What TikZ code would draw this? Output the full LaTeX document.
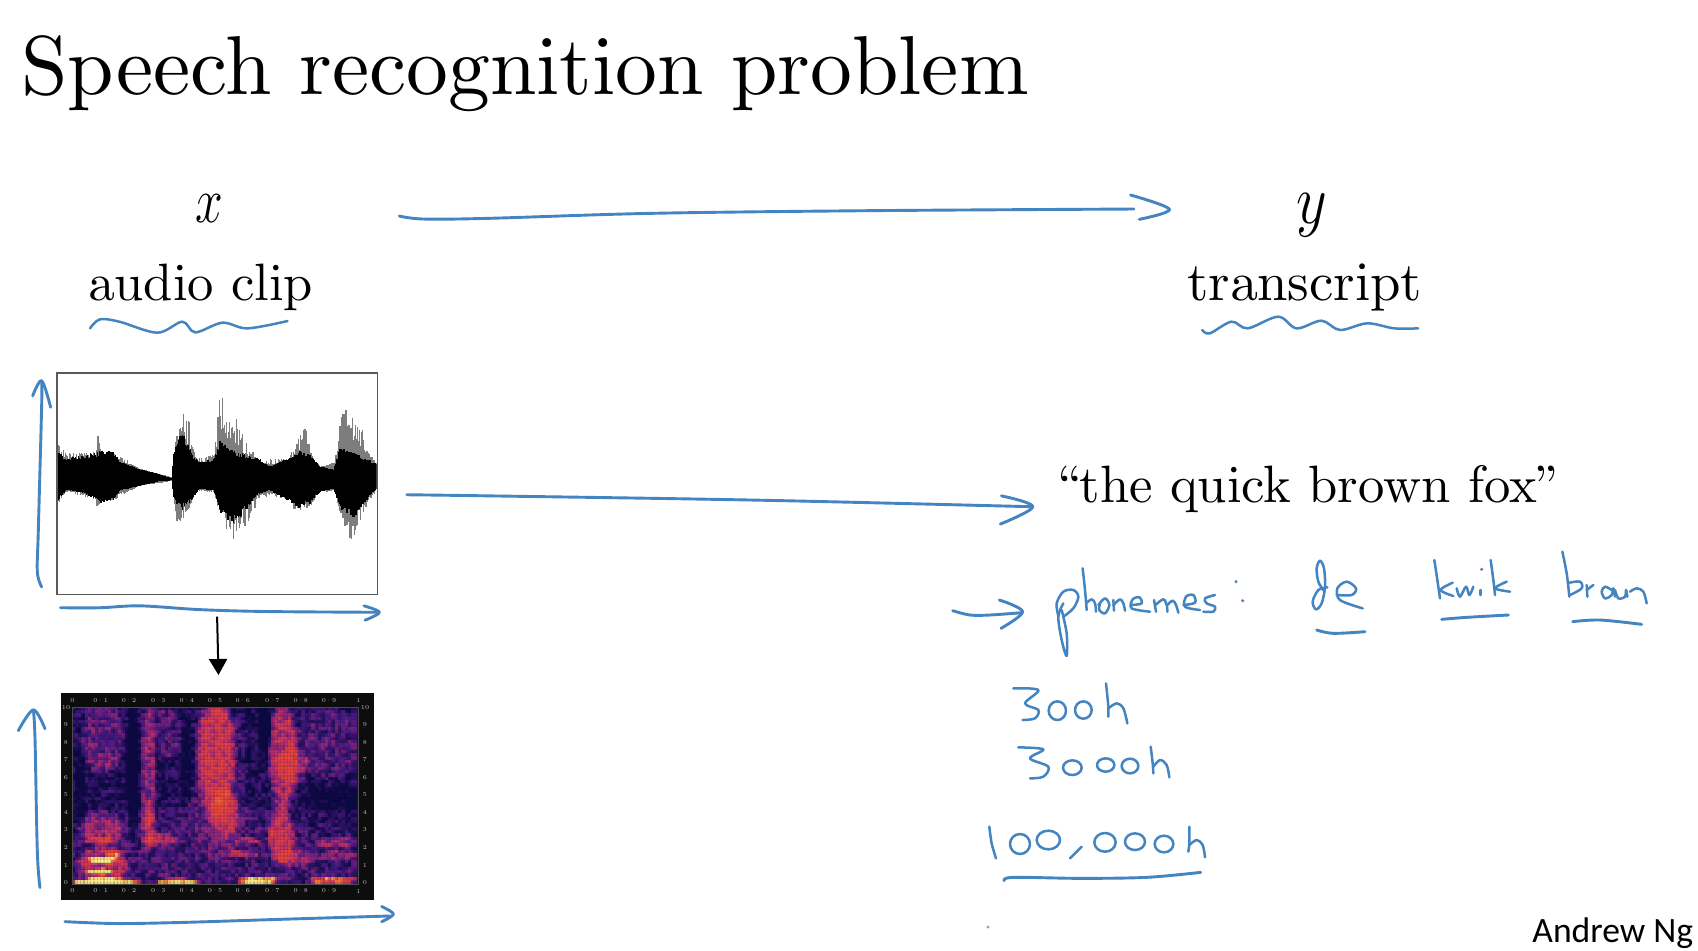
\documentclass[tikz,border=0pt]{standalone}
\usepackage{fontspec}
\usepackage{graphicx}
\usetikzlibrary{arrows.meta}
\newfontfamily\ngfont{Carlito}
\font\ftitle=cmr10 at 41.8pt
\font\faudio=cmr10 at 26.3pt
\font\ftrans=cmr10 at 27.4pt
\font\fquote=cmr10 at 26.3pt
\definecolor{ink}{RGB}{68,132,192}
\definecolor{wgray}{RGB}{125,125,125}
\newcount\tv \newcount\tb
\newcommand\Bp[5]{\tb=\numexpr 2*(1000-(\zx-#1)*(\zx-#1)*1000/(#3*#3)-(\zy-#2)*(\zy-#2)*1000/(#4*#4))\relax
  \ifnum\tb>1000 \tb=1000 \fi
  \ifnum\tb>0 \advance\tv by \numexpr #5*\tb/1000\relax\fi}
\newcommand\Lp[4]{\the\numexpr #1+(#2-#1)*(\tv-#3)/(#4-#3)\relax}
\newcommand\cmapset{%
  \ifnum\tv<0 \tv=0 \fi \ifnum\tv>1000 \tv=1000 \fi
  \ifnum\tv<280 \edef\rgbv{\Lp{10}{80}{0}{280},\Lp{8}{28}{0}{280},\Lp{62}{135}{0}{280}}%
  \else\ifnum\tv<540 \edef\rgbv{\Lp{80}{195}{280}{540},\Lp{28}{48}{280}{540},\Lp{135}{105}{280}{540}}%
  \else\ifnum\tv<760 \edef\rgbv{\Lp{195}{238}{540}{760},\Lp{48}{70}{540}{760},\Lp{105}{50}{540}{760}}%
  \else\ifnum\tv<900 \edef\rgbv{\Lp{238}{252}{760}{900},\Lp{70}{180}{760}{900},\Lp{50}{50}{760}{900}}%
  \else \edef\rgbv{\Lp{252}{255}{900}{1000},\Lp{180}{240}{900}{1000},\Lp{50}{130}{900}{1000}}%
  \fi\fi\fi\fi
  \definecolor{cc}{RGB}{\rgbv}}
% waveform made of one-pixel vertical strokes between two interpolated envelopes
\newcommand\Sg[8]{%
  \edef\nxt{\the\numexpr#1+3\relax}%
  \foreach \px in {#1,\nxt,...,#4}{%
    \pgfmathrandominteger{\ja}{0}{100}\pgfmathrandominteger{\jb}{0}{100}%
    \edef\wt{\the\numexpr #2+(#5-#2)*(\px-#1)/(#4-#1)\relax}%
    \edef\wb{\the\numexpr #3+(#6-#3)*(\px-#1)/(#4-#1)\relax}%
    \edef\wt{\the\numexpr \wt+\ifnum285>\wt (285-\wt)*\ja*#8/10000\else 0\fi\relax}%
    \edef\wb{\the\numexpr \wb-\ifnum\wb>340 (\wb-340)*\jb*#8/10000\else 0\fi\relax}%
    \draw[#7,line width=0.6pt] (\px,\wt) -- (\px,\wb);
  }}
\newcommand\wavedraw[3]{%
  \xdef\pX{-1}%
  \foreach \cx/\ct/\cb in {#3}{%
    \ifnum\pX>-1 \Sg{\pX}{\pT}{\pB}{\cx}{\ct}{\cb}{#1}{#2}\fi
    \xdef\pX{\cx}\xdef\pT{\ct}\xdef\pB{\cb}%
  }}
\newcommand\hs[1]{\draw[hand] plot[smooth,tension=0.55] coordinates {#1};}
\newcommand\hl[1]{\draw[handl] plot[smooth,tension=0.55] coordinates {#1};}
\tikzset{
  hand/.style={draw=ink,line width=1.45pt,line cap=round,line join=round},
  handl/.style={draw=ink,line width=1.25pt,line cap=round,line join=round},
  lbl/.style={inner sep=0pt,anchor=base west,text=black},
  tick/.style={inner sep=0pt,text=gray!50,font=\fontsize{3}{3}\selectfont},
  zthree/.style={x=0.166667pt,y=-0.166667pt},
}
\begin{document}
\begin{tikzpicture}[x=0.5pt,y=-0.5pt]
\useasboundingbox (0,0) rectangle (1698,950);
\fill[white] (0,0) rectangle (1698,950);

% texts
\node[lbl,font=\ftitle] (title) at (21,94) {Speech recognition problem};
\node[inner sep=0pt,font=\fontsize{24}{28}\selectfont] (xlab) at (209,209) {\scalebox{1}[1.3]{$x$}};
\node[inner sep=0pt,font=\fontsize{24}{28}\selectfont] (ylab) at (1312,215) {\scalebox{1.2}[1.4]{$y$}};
\node[lbl,font=\faudio] (audio) at (88,300) {audio clip};
\node[lbl,font=\ftrans] (transcript) at (1187,300) {transcript};
\node[lbl,font=\fquote] (quote) at (1053,502) {``the quick brown fox''};
\node[lbl,font=\ngfont\fontsize{17.8}{20}\selectfont] (ng) at (1532,942.5) {Andrew Ng};

% waveform box
\node[inner sep=0pt,anchor=north west,minimum width=160pt,minimum height=110.4pt] (wave) at (56.7,373) {};
\begin{scope}[shift={(0,360)},x=0.166667pt,y=-0.1891pt]
  \clip (170,35) rectangle (1130,622);
  \pgfmathsetseed{7}
  \wavedraw{wgray}{55}{170/205/405,200/245/350,288/240/370,295/158/415,302/240/370,340/240/372,420/288/332,515/310/320,525/230/395,535/170/460,550/135/420,565/150/400,578/215/375,590/260/345,640/250/350,655/105/400,668/100/430,680/130/450,700/125/485,725/190/460,750/235/420,785/265/360,868/260/370,880/215/395,915/178/400,935/245/385,960/282/350,1005/270/345,1020/170/400,1032/115/440,1055/130/485,1075/165/440,1100/205/390,1118/255/365,1130/262/345}
  \wavedraw{black}{30}{170/235/378,200/258/345,250/252/352,300/240/378,340/240/372,360/268/345,420/290/332,470/300/322,515/312/318,522/240/370,548/180/398,578/250/370,600/270/340,640/262/345,660/210/405,700/240/435,740/250/400,770/255/358,810/280/345,870/258/375,900/240/395,930/250/380,960/282/350,1000/290/340,1020/225/395,1062/240/420,1095/262/375,1130/270/340}
\end{scope}
\draw[draw=black!65,line width=0.8pt] (wave.north west) rectangle (wave.south east);

% spectrogram
\node[inner sep=0pt,anchor=north west,fill=black!95,minimum width=156.5pt,minimum height=103.5pt] (spec) at (61,693) {};
\begin{scope}[shift={(60,685)},zthree]
  \pgfmathsetseed{42}
  \begin{scope}
  \clip (37,68) rectangle (895,598);
  \fill[fill={rgb,255:red,30;green,14;blue,90}] (37,68) rectangle (895,598);
  \foreach \zy in {68,78,...,590}{
    \foreach \zx in {37,47,...,885}{
      \pgfmathrandominteger{\rr}{-190}{190}
      \tv=\numexpr 85+\rr\relax
      \Bp{460}{620}{640}{300}{130}
      \Bp{125}{150}{70}{125}{230}
      \Bp{125}{230}{60}{30}{100}
      \Bp{800}{170}{120}{120}{170}
      \Bp{320}{140}{45}{100}{170}
      \Bp{465}{280}{105}{290}{110}
      \Bp{262}{240}{22}{250}{330}
      \Bp{262}{420}{24}{90}{220}
      \Bp{465}{210}{65}{215}{430}
      \Bp{490}{380}{45}{90}{300}
      \Bp{665}{210}{48}{190}{450}
      \Bp{695}{240}{55}{65}{250}
      \Bp{660}{450}{42}{95}{420}
      \Bp{700}{515}{60}{28}{260}
      \Bp{120}{425}{80}{55}{300}
      \Bp{120}{465}{58}{11}{300}
      \Bp{125}{522}{48}{11}{620}
      \Bp{115}{558}{46}{11}{680}
      \Bp{155}{505}{25}{12}{350}
      \Bp{125}{540}{85}{70}{320}
      \Bp{130}{587}{110}{11}{900}
      \Bp{350}{587}{65}{11}{800}
      \Bp{590}{583}{65}{14}{800}
      \Bp{815}{582}{80}{13}{560}
      \Bp{300}{460}{60}{20}{290}
      \Bp{560}{465}{52}{11}{250}
      \Bp{545}{505}{52}{13}{290}
      \Bp{830}{470}{72}{18}{240}
      \Bp{830}{510}{72}{18}{150}
      \Bp{215}{250}{24}{220}{-260}
      \Bp{380}{220}{22}{150}{-200}
      \Bp{610}{120}{24}{90}{-270}
      \Bp{810}{340}{105}{40}{-180}
      \Bp{55}{300}{20}{160}{-130}
      % columns stay red: only the low left part and the bottom strips run to yellow
      \ifnum\zy<565
        \ifnum\zx>240
          \ifnum\tv>700 \tv=\numexpr 700+(\tv-700)/4\relax\fi
        \else\ifnum\zy<500
          \ifnum\tv>700 \tv=\numexpr 700+(\tv-700)/4\relax\fi
        \fi\fi
      \fi
      \cmapset
      \fill[cc,opacity=0.7] (\zx-3,\zy-3) rectangle ++(16,16);
    }
  }
  \end{scope}
  \draw[gray!60!black,line width=0.2pt] (37,68) rectangle (895,598);
  \foreach \v/\xx in {0/37,0·1/122,0·2/207,0·3/295,0·4/380,0·5/465,0·6/548,0·7/637,0·8/722,0·9/807,1/895}{
    \node[tick] at (\xx,47) {\v};
    \node[tick] at (\xx,618) {\v};
  }
  \foreach \v/\yy in {10/68,9/120,8/172,7/225,6/278,5/330,4/382,3/435,2/487,1/540,0/592}{
    \node[tick] at (18,\yy) {\v};
    \node[tick] at (915,\yy) {\v};
  }
\end{scope}

% black arrow between waveform and spectrogram
\coordinate (arrS) at ([yshift=-11pt]wave.south);
\coordinate (arrE) at ([xshift=0.3pt,yshift=9pt]spec.north);
\draw[black,line width=1pt,-{Triangle[length=8pt,width=9pt]}] (arrS) -- (arrE);

% blue strokes around the two plots
\begin{scope}[shift={(0,360)},x=0.166667pt,y=-0.1891pt]
  \hs{(125,600)(112,560)(115,450)(125,120)(125,55)}
  \hs{(98,95)(125,55)(152,125)}
  \hs{(182,655)(300,655)(420,650)(600,660)(800,665)(1135,667)}
  \hs{(1092,650)(1138,667)(1095,688)}
  \hs{(120,1395)(112,1300)(105,1000)(100,925)}
  \hs{(55,980)(100,925)(135,975)}
  \hs{(195,1485)(350,1490)(550,1487)(800,1480)(1170,1470)}
  \hs{(1145,1445)(1180,1465)(1145,1485)}
\end{scope}

% top arrow and underlines
\begin{scope}[x=0.5425pt,y=-0.166667pt]
  \hs{(368,648)(390,657)(450,655)(600,640)(800,632)(1045,627)}
  \hs{(1042,585)(1078,628)(1050,658)}
  \hl{(83,985)(92,958)(110,965)(145,998)(168,965)(180,997)(205,968)(228,985)(265,963)}
  \hl{(1108,990)(1115,1000)(1135,965)(1150,985)(1178,950)(1195,985)(1218,962)(1235,990)(1260,970)(1285,985)(1307,985)}
\end{scope}
% middle arrow
\begin{scope}[x=0.5425pt,y=-0.5425pt]
  \hs{(375,456)(450,457)(700,461)(950,467)}
  \hs{(923,457)(952,467)(922,483)}
\end{scope}

% phonemes
\begin{scope}[shift={(950,540)},zthree]
  \hs{(8,212)(60,225)(120,225)(215,218)}
  \hs{(148,180)(218,215)(153,265)}
  \hl{(325,228)(320,190)(340,155)(370,150)(385,170)(370,205)(340,230)}
  \hl{(340,190)(325,230)(335,300)(350,348)(350,280)(335,210)}
  \hl{(398,85)(405,150)(410,210)}
  \hl{(408,190)(425,178)(435,190)(438,215)}
  \hl{(445,195)(465,175)(478,195)(465,220)(448,210)(450,190)}
  \hl{(490,180)(492,212)}
  \hl{(490,195)(510,178)(520,190)(525,212)}
  \hl{(545,195)(575,190)(568,172)(548,178)(545,205)(600,215)}
  \hl{(612,180)(618,215)}
  \hl{(616,195)(640,178)(650,195)(652,215)}
  \hl{(652,195)(668,182)(678,195)(685,218)}
  \hl{(700,195)(735,188)(730,165)(708,170)(705,200)(750,210)}
  \hl{(795,165)(765,175)(770,190)(795,200)(790,215)(760,215)}
  \fill[ink] (858,125) circle (5);
  \fill[ink] (878,182) circle (5);
\end{scope}

% de kwik braun
\begin{scope}[shift={(1300,540)},zthree]
  \hl{(82,142)(55,150)(38,185)(48,208)(65,190)(75,140)(72,85)(60,62)(50,85)(55,125)(70,150)}
  \hl{(110,165)(155,165)(168,145)(140,125)(112,145)(120,180)(188,205)}
  \hs{(50,270)(100,280)(195,275)}
  \hl{(403,60)(412,120)(420,175)}
  \hl{(458,128)(422,150)(460,168)}
  \hl{(470,145)(480,170)(498,140)(508,165)(520,140)}
  \hl{(542,150)(542,165)}
  \fill[ink] (545,88) circle (5);
  \hl{(572,60)(580,120)(585,165)}
  \hl{(620,125)(585,145)(630,155)}
  \hs{(425,238)(500,232)(625,225)}
  \hl{(787,35)(800,100)(808,170)}
  \hl{(808,128)(840,125)(845,145)(810,165)}
  \hl{(860,135)(862,170)}
  \hl{(860,150)(880,135)}
  \hl{(935,150)(915,140)(905,155)(915,175)(935,165)(940,145)(945,170)}
  \hl{(945,150)(955,175)(975,170)(978,150)(982,170)}
  \hl{(990,155)(1010,145)(1030,155)(1040,190)}
  \hs{(818,245)(900,240)(1025,253)}
\end{scope}

% hours
\begin{scope}[shift={(980,670)},zthree]
  \hl{(100,55)(175,60)(135,100)(175,120)(165,145)(128,150)}
  \draw[handl] (232,122) ellipse [x radius=26,y radius=28];
  \draw[handl] (310,120) ellipse [x radius=25,y radius=26];
  \hl{(378,40)(385,110)(385,140)}
  \hl{(385,115)(410,100)(430,115)(442,160)}
  \hl{(115,232)(190,238)(150,265)(205,290)(190,320)(150,325)}
  \draw[handl] (277,293) ellipse [x radius=28,y radius=22];
  \draw[handl] (377,285) ellipse [x radius=26,y radius=20];
  \draw[handl] (450,288) ellipse [x radius=25,y radius=22];
  \hl{(512,230)(518,280)(520,310)}
  \hl{(520,290)(540,270)(560,285)(568,322)}
  \hl{(28,470)(35,520)(48,565)}
  \draw[handl] (120,522) ellipse [x radius=30,y radius=30];
  \draw[handl] (205,510) ellipse [x radius=35,y radius=28];
  \hl{(305,530)(270,565)}
  \draw[handl] (375,517) ellipse [x radius=32,y radius=28];
  \draw[handl] (465,515) ellipse [x radius=30,y radius=25];
  \draw[handl] (552,522) ellipse [x radius=28,y radius=25];
  \hl{(628,470)(628,520)(625,545)}
  \hl{(628,525)(650,510)(668,525)(675,562)}
  \hs{(72,632)(100,622)(300,625)(500,622)(662,607)}
\end{scope}
\fill[ink!70] (988,927) circle (1.6);
\end{tikzpicture}
\end{document}
